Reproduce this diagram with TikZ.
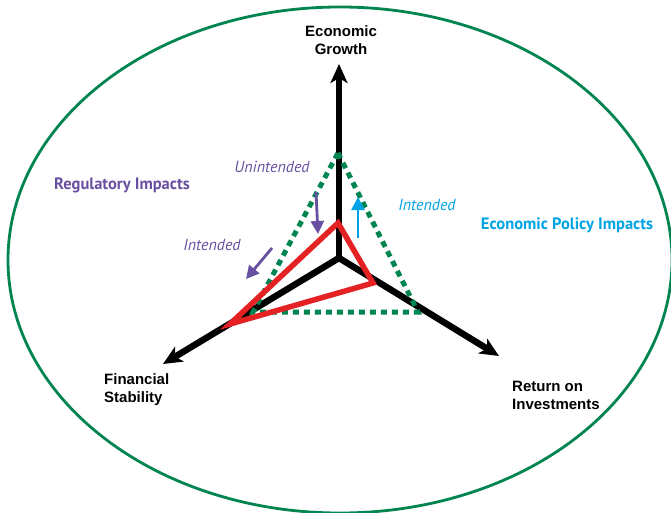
\documentclass[tikz,border=0pt]{standalone}
\usepackage{fontspec}
\setmainfont{Liberation Sans}
\newfontfamily\myriad{PT Sans}
\usetikzlibrary{arrows.meta}
\definecolor{ringgreen}{RGB}{0,133,80}
\definecolor{regpurple}{RGB}{104,80,160}
\definecolor{polblue}{RGB}{0,163,228}
\definecolor{shiftred}{RGB}{228,34,36}
\tikzset{
  axis/.style={line width=6.5pt, -{Stealth[length=19pt,width=17pt,inset=5pt]}},
  nudge/.style={line width=2.8pt, -{Triangle[length=13pt,width=13pt]}},
  axislabel/.style={font=\bfseries\fontsize{15}{18}\selectfont, align=left, inner sep=0pt},
  impact/.style={font=\myriad\bfseries\fontsize{16.5}{19}\selectfont, inner sep=0pt},
  hint/.style={font=\myriad\itshape\fontsize{16}{18}\selectfont, inner sep=0pt}
}
\begin{document}
\begin{tikzpicture}[x=1pt, y=-1pt]
        \useasboundingbox (0,0) rectangle (671,513);
        \draw[ringgreen, line width=2.8pt] (340,260) ellipse [x radius=332pt, y radius=253pt];
        % axes
        \coordinate (o) at (339,258);
        \coordinate (growth) at (339,64);
        \coordinate (stability) at (163,364);
        \coordinate (returns) at (499,356);
        \draw[axis] (o) -- (growth);
        \draw[axis] (o) -- (stability);
        \draw[axis] (o) -- (returns);
        % before and after
        \coordinate (gtop) at (338,153);
        \coordinate (gright) at (418,312);
        \coordinate (gleft) at (253,312);
        \draw[ringgreen, line width=5pt, dash pattern=on 6pt off 5pt] (gtop) -- (gright) -- (gleft) -- cycle;
        \coordinate (rtop) at (338,223);
        \coordinate (rright) at (373,283);
        \coordinate (rleft) at (230,324);
        \draw[shiftred, line width=5.5pt, line join=miter] (rtop) -- (rright) -- (rleft) -- cycle;
        % shifts
        \coordinate (u1) at (316,192);
        \coordinate (u2) at (318,234);
        \coordinate (i1) at (272,248);
        \coordinate (i2) at (246,279);
        \coordinate (b1) at (358,238);
        \coordinate (b2) at (358,197);
        \draw[nudge, regpurple] (u1) -- (u2);
        \draw[nudge, regpurple] (i1) -- (i2);
        \draw[nudge, polblue] (b1) -- (b2);
        % labels
        \node[axislabel, align=center] (eg) at (341,40) {Economic\\Growth};
        \node[axislabel, anchor=west] (fs) at (104,390) {Financial\\Stability};
        \node[axislabel, anchor=west] (ri) at (512,395) {Return on\\Investments};
        \node[impact, regpurple] (reg) at (122,185) {Regulatory Impacts};
        \node[impact, polblue] (pol) at (567,225) {Economic Policy Impacts};
        \node[hint, regpurple] (unint) at (272,167) {Unintended};
        \node[hint, regpurple] (int) at (212,245) {Intended};
        \node[hint, polblue] (intb) at (427,205) {Intended};
      \end{tikzpicture}
\end{document}
